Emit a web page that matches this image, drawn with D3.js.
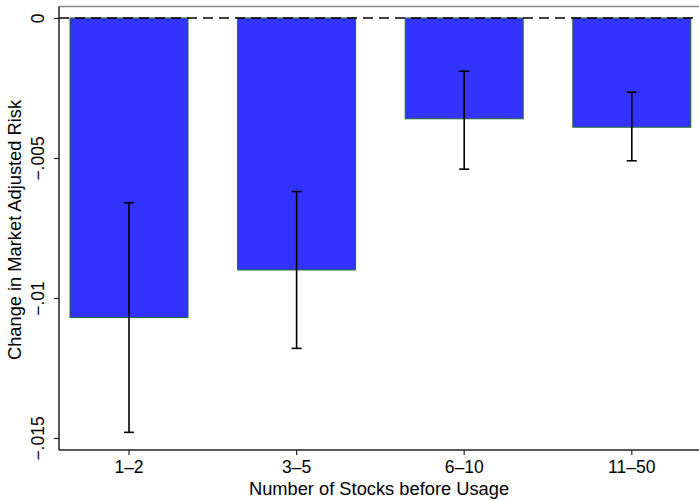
<!DOCTYPE html>
<html>
<head>
<meta charset="utf-8">
<script src="https://cdn.jsdelivr.net/npm/d3@7"></script>
<style>
  body { margin: 0; background: #fff; }
  text { font-family: "Liberation Sans", Arial, Helvetica, sans-serif; fill: #000; }
</style>
</head>
<body>
<div id="chart"></div>
<script>
// chart data
const categories = ["1\u20132", "3\u20135", "6\u201310", "11\u201350"];
const values = [-0.0107, -0.0090, -0.0036, -0.0039];
const ciUpper = [-0.0066, -0.0062, -0.0019, -0.00265];
const ciLower = [-0.0148, -0.0118, -0.0054, -0.0051];
const yTicks = [0, -0.005, -0.01, -0.015];
const yTickLabels = ["0", "\u2212.005", "\u2212.01", "\u2212.015"];

const width = 699;
const height = 500;
const margin = {left: 59, right: 0, top: 6.5, bottom: 50};

const svg = d3.select("#chart")
  .append("svg")
  .attr("width", width)
  .attr("height", height);

// y scale: 0 -> 18px, -.015 -> 438px
const yScale = d3.scaleLinear()
  .domain([-0.01543, 0.00041])
  .range([height - margin.bottom, margin.top]);

// band scale for bars
const xScale = d3.scaleBand()
  .domain(categories)
  .range([45.2, 715.6])
  .paddingInner(0.296)
  .paddingOuter(0.148);

// top frame line
svg.append("line")
  .attr("x1", margin.left).attr("x2", width)
  .attr("y1", margin.top).attr("y2", margin.top)
  .attr("stroke", "#888").attr("stroke-width", 1.5);

// bars
svg.selectAll(".bar")
  .data(values)
  .enter()
  .append("rect")
    .attr("class", "bar")
    .attr("x", (d, i) => xScale(categories[i]))
    .attr("y", yScale(0))
    .attr("width", xScale.bandwidth())
    .attr("height", d => yScale(d) - yScale(0))
    .attr("fill", "#3333ff")
    .attr("stroke", "#1f6a2a")
    .attr("stroke-width", 1);

// zero reference line
svg.append("line")
  .attr("x1", margin.left).attr("x2", width)
  .attr("y1", yScale(0)).attr("y2", yScale(0))
  .attr("stroke", "#000").attr("stroke-width", 1.5)
  .attr("stroke-dasharray", "10,6");

// error bars
const cx = i => xScale(categories[i]) + xScale.bandwidth() / 2;
const err = svg.append("g").attr("stroke", "#000").attr("stroke-width", 1.6);
err.selectAll(".ci")
  .data(values)
  .enter()
  .append("line")
    .attr("x1", (d, i) => cx(i)).attr("x2", (d, i) => cx(i))
    .attr("y1", (d, i) => yScale(ciUpper[i]))
    .attr("y2", (d, i) => yScale(ciLower[i]));
err.selectAll(".capTop")
  .data(ciUpper)
  .enter()
  .append("line")
    .attr("x1", (d, i) => cx(i) - 5).attr("x2", (d, i) => cx(i) + 5)
    .attr("y1", d => yScale(d)).attr("y2", d => yScale(d));
err.selectAll(".capBot")
  .data(ciLower)
  .enter()
  .append("line")
    .attr("x1", (d, i) => cx(i) - 5).attr("x2", (d, i) => cx(i) + 5)
    .attr("y1", d => yScale(d)).attr("y2", d => yScale(d));

// y axis
const yAxis = svg.append("g")
  .attr("transform", `translate(${margin.left},0)`)
  .call(d3.axisLeft(yScale)
    .tickValues(yTicks)
    .tickSize(5)
    .tickFormat((d, i) => yTickLabels[i]));
yAxis.select(".domain").attr("stroke", "#222").attr("stroke-width", 1.5)
  .attr("d", `M0,${margin.top}V${height - margin.bottom}`);
yAxis.selectAll(".tick line").attr("stroke", "#222").attr("stroke-width", 1.2);
yAxis.selectAll(".tick text")
  .attr("font-size", 17.5)
  .attr("x", null).attr("dy", null)
  .attr("text-anchor", "middle")
  .attr("transform", "translate(-15,0) rotate(-90)");

// x axis
const xAxis = svg.append("g")
  .attr("transform", `translate(0,${height - margin.bottom})`)
  .call(d3.axisBottom(xScale).tickSize(5).tickSizeOuter(0));
xAxis.select(".domain").attr("stroke", "#222").attr("stroke-width", 1.5)
  .attr("d", `M${margin.left},0H${width}`);
xAxis.selectAll(".tick text").attr("font-size", 17.5).attr("y", 23).attr("dy", null);
xAxis.selectAll(".tick line").attr("stroke", "#222").attr("stroke-width", 1.2);

// axis titles
svg.append("text")
  .attr("x", 379).attr("y", 495)
  .attr("text-anchor", "middle")
  .attr("font-size", 18.3)
  .text("Number of Stocks before Usage");

svg.append("text")
  .attr("transform", "translate(21,230) rotate(-90)")
  .attr("text-anchor", "middle")
  .attr("font-size", 18.3)
  .text("Change in Market Adjusted Risk");
</script>
</body>
</html>
